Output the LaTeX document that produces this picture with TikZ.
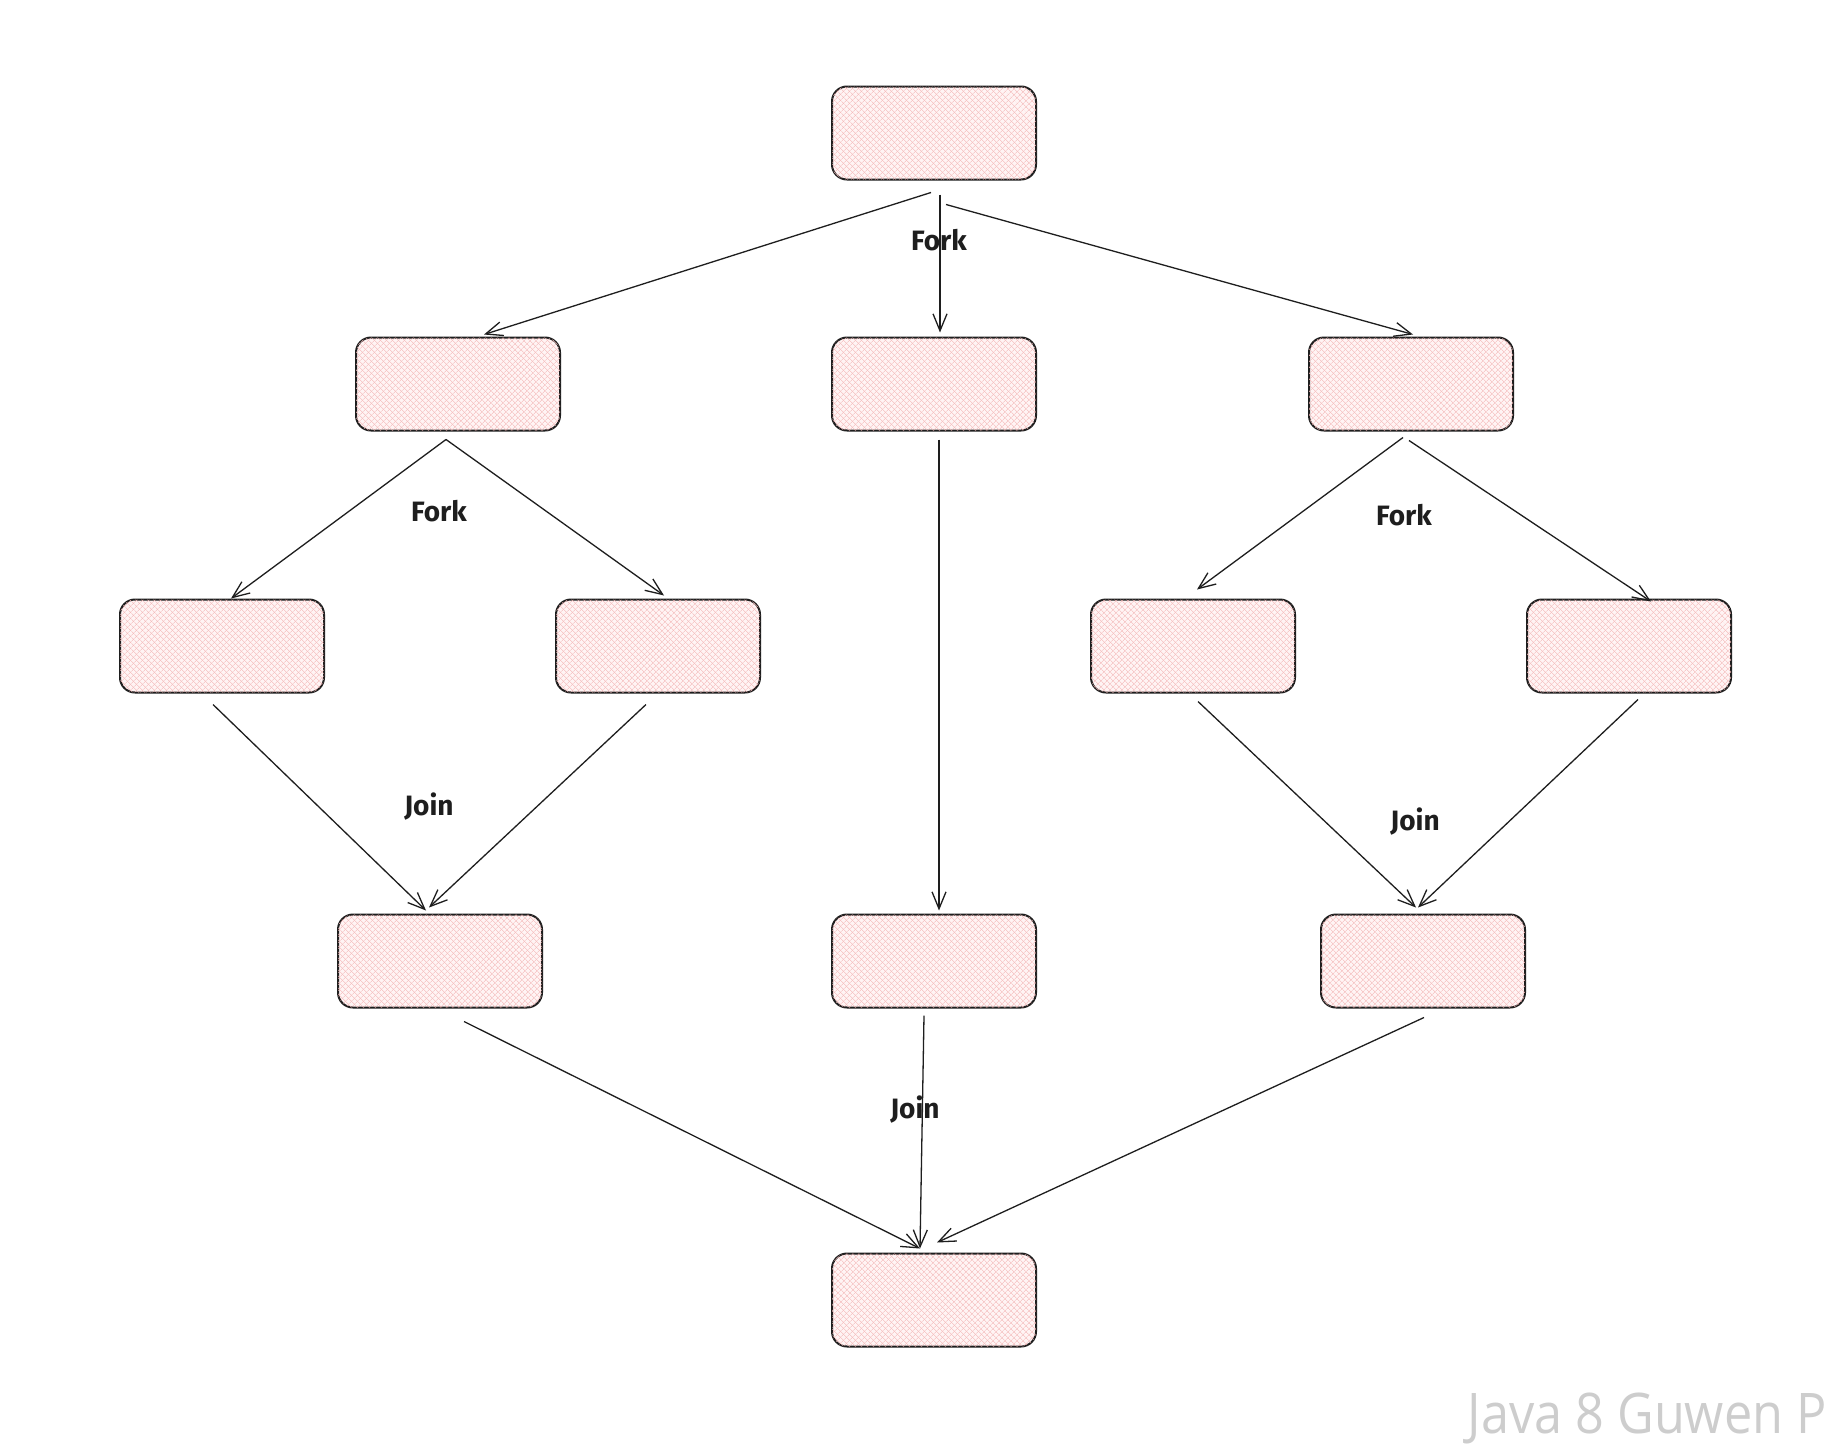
\documentclass[tikz,border=0pt]{standalone}
\usepackage{fontspec}
\setmainfont{Fira Sans}
\newfontfamily\wmfont{Open Sans}
\usetikzlibrary{arrows.meta,patterns.meta}
\definecolor{boxline}{RGB}{30,30,30}
\definecolor{hatch}{RGB}{243,182,182}
\definecolor{boxbase}{RGB}{255,244,244}
\definecolor{wmgray}{RGB}{205,205,205}
\tikzset{
  taskbox/.style={draw=boxline, line width=2pt, rounded corners=15pt,
    minimum width=204pt, minimum height=93pt, inner sep=0pt, fill=boxbase,
    postaction={pattern={Lines[angle=45,distance=4pt,line width=0.55pt]}, pattern color=hatch},
    postaction={pattern={Lines[angle=-45,distance=4pt,line width=0.55pt]}, pattern color=hatch}},
  flow/.style={draw=boxline, line width=1.3pt, -{Straight Barb[length=17pt,width=14pt,line width=1.3pt]}},
  lbl/.style={font=\fontsize{28}{28}\selectfont\bfseries, text=boxline, inner sep=0pt}
}
\begin{document}
\begin{tikzpicture}[x=1pt,y=-1pt]
\useasboundingbox[fill=white] (0,0) rectangle (1836,1448);
% boxes
\node[taskbox] (T) at (934,133) {};
\node[taskbox] (A) at (458,384) {};
\node[taskbox] (B) at (934,384) {};
\node[taskbox] (C) at (1411,384) {};
\node[taskbox] (D) at (222,646) {};
\node[taskbox] (E) at (658,646) {};
\node[taskbox] (F) at (1193,646) {};
\node[taskbox] (G) at (1629,646) {};
\node[taskbox] (H) at (440,961) {};
\node[taskbox] (I) at (934,961) {};
\node[taskbox] (J) at (1423,961) {};
\node[taskbox] (K) at (934,1300) {};
% connectors
\draw[flow] ([shift={(-3,12)}]T.south) -- ([shift={(26,-2)}]A.north);
\draw[flow] ([shift={(6,14)}]T.south) -- ([shift={(6,-4)}]B.north);
\draw[flow] ([shift={(12,24)}]T.south) -- ([shift={(2,-2)}]C.north);
\draw[flow] ([shift={(-12,8)}]A.south) -- ([shift={(9,0)}]D.north);
\draw[flow] ([shift={(-12,8)}]A.south) -- ([shift={(6,-3)}]E.north);
\draw[flow] ([shift={(-8,6)}]C.south) -- ([shift={(4,-9)}]F.north);
\draw[flow] ([shift={(-2,9)}]C.south) -- ([shift={(22,3)}]G.north);
\draw[flow] ([shift={(5,8)}]B.south) -- ([shift={(5,-3)}]I.north);
\draw[flow] ([shift={(-9,11)}]D.south) -- ([shift={(-14,-3)}]H.north);
\draw[flow] ([shift={(-12,11)}]E.south) -- ([shift={(-11,-6)}]H.north);
\draw[flow] ([shift={(5,8)}]F.south) -- ([shift={(-7,-6)}]J.north);
\draw[flow] ([shift={(9,6)}]G.south) -- ([shift={(-5,-6)}]J.north);
\draw[flow] ([shift={(24,13)}]H.south) -- ([shift={(-14,-4)}]K.north);
\draw[flow] ([shift={(-10,7)}]I.south) -- ([shift={(-14,-4)}]K.north);
\draw[flow] ([shift={(1,9)}]J.south) -- ([shift={(3,-10)}]K.north);
% labels
\node[lbl] (l1) at (939,240) {Fork};
\node[lbl] (l2) at (439,511) {Fork};
\node[lbl] (l3) at (1404,515) {Fork};
\node[lbl] (l4) at (429,807) {Join};
\node[lbl] (l5) at (1415,822) {Join};
\node[lbl] (l6) at (915,1109) {Join};
% watermark
\node[anchor=base east, inner sep=0pt, text=wmgray, font=\wmfont\fontsize{56}{56}\selectfont, xscale=0.9] (wm) at (1827,1433) {Java 8 Guwen P};
\end{tikzpicture}
\end{document}
